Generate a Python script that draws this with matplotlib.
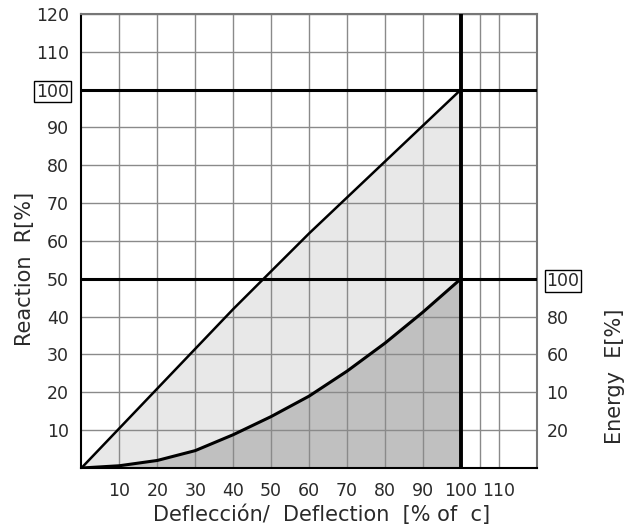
import matplotlib.pyplot as plt
import numpy as np

# --- Data ---
deflection = [0, 10, 20, 30, 40, 50, 60, 70, 80, 90, 100]
reaction = [0, 10.5, 21, 31.5, 42, 52, 62, 71.5, 81, 90.5, 100]
energy = [0, 0.6, 2, 4.6, 8.8, 13.6, 19, 25.6, 33, 41.2, 50]

x_ticks = [10, 20, 30, 40, 50, 60, 70, 80, 90, 100, 110]
x_grid = [10, 20, 30, 40, 50, 60, 70, 80, 90, 105, 110]
y_ticks = [10, 20, 30, 40, 50, 60, 70, 80, 90, 100, 110, 120]
right_ticks = [10, 20, 30, 40, 50]
right_labels = ['20', '10', '60', '80', '100']

txt = '#2a2a2a'
fs = 12.5
lfs = 15

fig = plt.figure(figsize=(6.36, 5.28), dpi=100)
ax = fig.add_axes([0.128, 0.1136, 0.716, 0.86])

# fills
ax.fill_between(deflection, energy, reaction, color='#e8e8e8', zorder=1)
ax.fill_between(deflection, 0, energy, color='#c0c0c0', zorder=1)

# grid
for g in x_grid:
    ax.axvline(g, color='#8a8a8a', lw=1, zorder=2)
for g in y_ticks:
    if g not in (50, 100):
        ax.axhline(g, color='#8a8a8a', lw=1, zorder=2)

# heavy reference lines
ax.axhline(100, color='black', lw=2.2, zorder=3)
ax.axhline(50, color='black', lw=2.2, zorder=3)
ax.axvline(100, color='black', lw=2.8, zorder=3)

# curves
ax.plot(deflection, reaction, color='black', lw=1.8, zorder=4)
ax.plot(deflection, energy, color='black', lw=2.2, zorder=4)

ax.set_xlim(0, 120)
ax.set_ylim(0, 120)

ax.set_xticks(x_ticks)
ax.set_xticklabels([str(t) for t in x_ticks], fontsize=fs, color=txt)
ax.set_yticks(y_ticks)
ax.set_yticklabels([str(t) for t in y_ticks], fontsize=fs, color=txt)
ax.tick_params(axis='x', length=0, pad=10)
ax.tick_params(axis='y', length=0, pad=9)

for lab in ax.get_yticklabels():
    if lab.get_text() == '100':
        lab.set_bbox(dict(boxstyle='square,pad=0.1', fc='white', ec='black', lw=1))

for side in ['left', 'bottom']:
    ax.spines[side].set_color('black')
    ax.spines[side].set_linewidth(1.5)
for side in ['top', 'right']:
    ax.spines[side].set_color('#777777')
    ax.spines[side].set_linewidth(1.5)

# right axis (energy)
ax2 = ax.twinx()
ax2.set_ylim(0, 120)
ax2.set_yticks(right_ticks)
ax2.set_yticklabels(right_labels, fontsize=fs, color=txt)
ax2.tick_params(axis='y', length=0, pad=7)
for lab in ax2.get_yticklabels():
    if lab.get_text() == '100':
        lab.set_bbox(dict(boxstyle='square,pad=0.1', fc='white', ec='black', lw=1))
for s in ax2.spines.values():
    s.set_visible(False)

# axis titles
fig.text(0.505, 0.025, 'Deflección/  Deflection  [% of  c]', fontsize=lfs, color=txt,
         ha='center', va='center')
fig.text(0.040, 0.49, 'Reaction  R[%]', rotation=90, fontsize=lfs, color=txt,
         ha='center', va='center')
fig.text(0.967, 0.288, 'Energy  E[%]', rotation=90, fontsize=lfs, color=txt,
         ha='center', va='center')

plt.savefig('out.png', dpi=100)
